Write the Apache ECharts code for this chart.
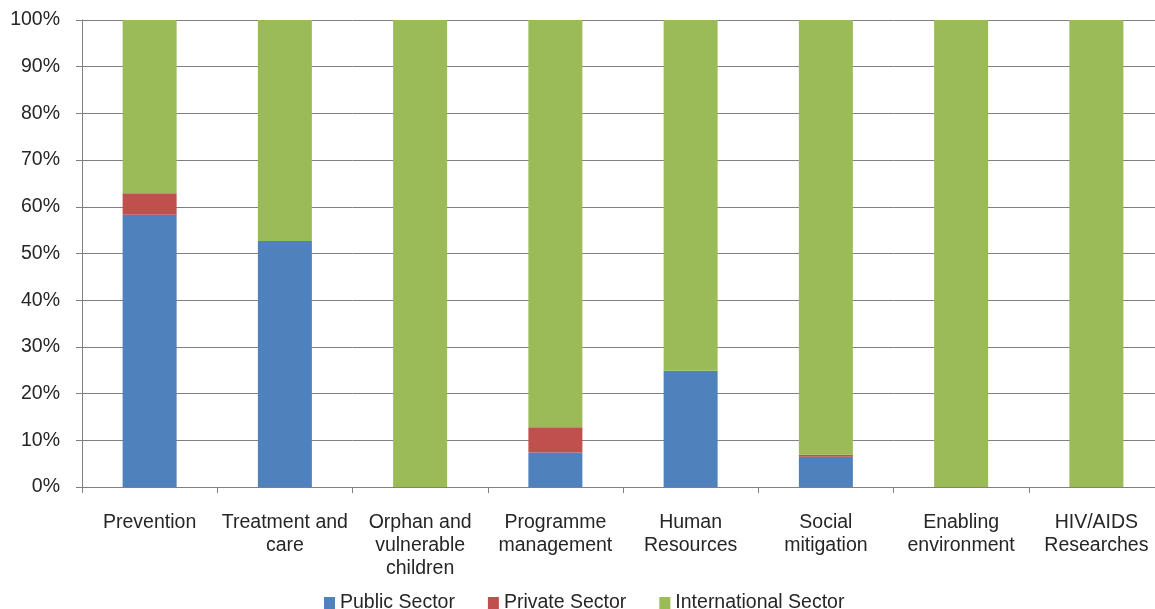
<!DOCTYPE html>
<html>
<head>
<meta charset="utf-8">
<script src="https://cdn.jsdelivr.net/npm/echarts@6/dist/echarts.min.js"></script>
<style>
  html, body { margin: 0; padding: 0; background: #fff; overflow: hidden; }
  /* plot area runs a few px past the right edge, as in the source image */
  #chart { width: 1164px; height: 609px; }
</style>
</head>
<body>
<div id="chart"></div>
<script>
  // categories (line breaks as in the original labels)
  var categories = ['Prevention', 'Treatment and\ncare', 'Orphan and\nvulnerable\nchildren', 'Programme\nmanagement',
    'Human\nResources', 'Social\nmitigation', 'Enabling\nenvironment', 'HIV/AIDS\nResearches']
  // shares in percent
  var publicSector = [58.3, 52.7, 0, 7.4, 24.9, 6.5, 0, 0]
  var privateSector = [4.6, 0, 0, 5.4, 0, 0.4, 0, 0]
  var internationalSector = [37.1, 47.3, 100, 87.2, 75.1, 93.1, 100, 100]
  var yTicks = [0, 10, 20, 30, 40, 50, 60, 70, 80, 90, 100]

  var txt = '#262626'
  var font = 'Liberation Sans, Arial, sans-serif'

  var chart = echarts.init(document.getElementById('chart'))
  chart.setOption({
    animation: false,
    color: ['#4F81BD', '#C0504D', '#9BBB59'],
    textStyle: { fontFamily: font },
    grid: { left: 82, top: 20, right: 0, height: 467 },
    legend: {
      top: 588,
      left: 319,
      itemWidth: 11,
      itemHeight: 12,
      itemGap: 33,
      icon: 'rect',
      textStyle: { color: txt, fontSize: 19.5, fontFamily: font },
      data: ['Public Sector', 'Private Sector', 'International Sector']
    },
    xAxis: {
      type: 'category',
      data: categories,
      axisLine: { lineStyle: { color: '#808080' } },
      axisTick: { show: true, length: 6, lineStyle: { color: '#808080' } },
      axisLabel: { color: txt, fontSize: 19.5, margin: 24, lineHeight: 23, interval: 0 }
    },
    yAxis: {
      type: 'value',
      min: yTicks[0],
      max: yTicks[yTicks.length - 1],
      interval: 10,
      axisLine: { show: true, lineStyle: { color: '#808080' } },
      axisTick: { show: true, length: 6, lineStyle: { color: '#808080' } },
      splitLine: { lineStyle: { color: '#808080' } },
      axisLabel: { color: txt, fontSize: 19.5, margin: 22, formatter: '{value}%' }
    },
    series: [
      { name: 'Public Sector', type: 'bar', stack: 'total', barWidth: 54, data: publicSector },
      { name: 'Private Sector', type: 'bar', stack: 'total', barWidth: 54, data: privateSector },
      { name: 'International Sector', type: 'bar', stack: 'total', barWidth: 54, data: internationalSector }
    ]
  })
</script>
</body>
</html>
